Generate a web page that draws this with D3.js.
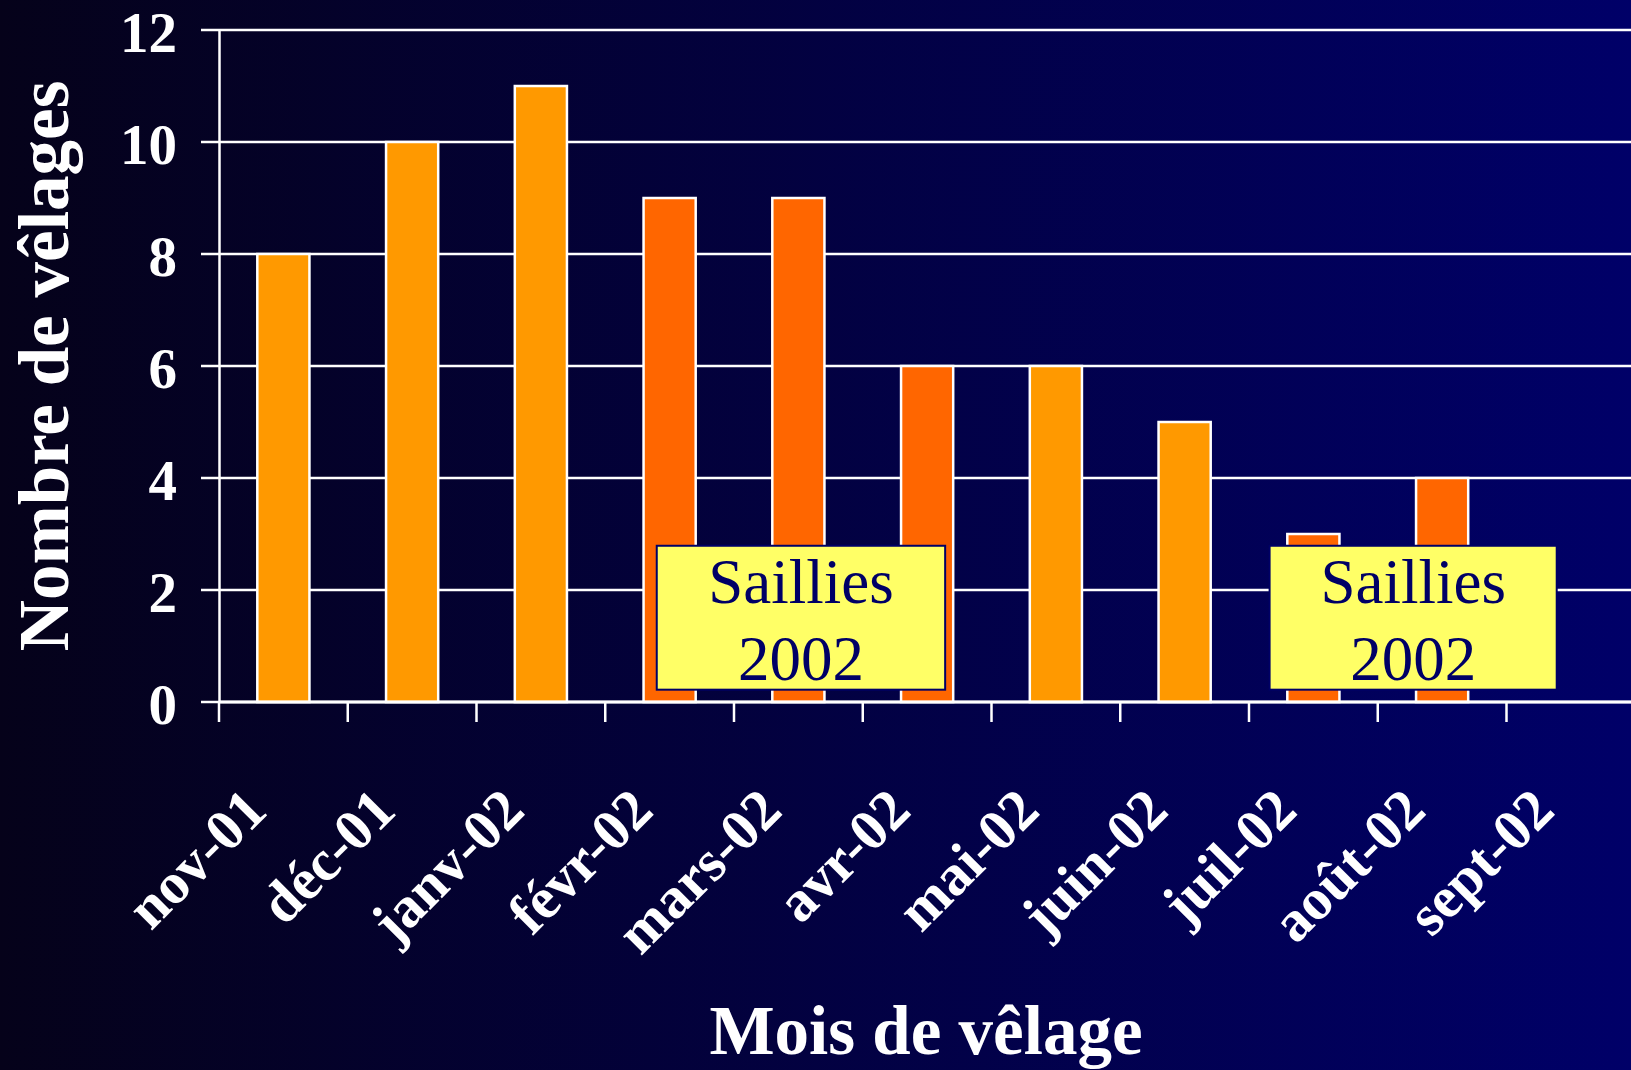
<!DOCTYPE html>
<html>
<head>
<meta charset="utf-8">
<script src="https://cdn.jsdelivr.net/npm/d3@7"></script>
<style>
  html, body { margin: 0; padding: 0; overflow: hidden; background: #000040; }
  svg { display: block; }
</style>
</head>
<body>
<div id="vis"></div>
<script>
// months on the x axis
const months = ["nov-01", "déc-01", "janv-02", "févr-02", "mars-02", "avr-02",
                "mai-02", "juin-02", "juil-02", "août-02", "sept-02"];
// number of calvings per month
const velages = [8, 10, 11, 9, 9, 6, 6, 5, 3, 4, 0];
// which group each month belongs to (colour)
const groupe = ["a", "a", "a", "b", "b", "b", "a", "a", "b", "b", "b"];
const yTicks = [0, 2, 4, 6, 8, 10, 12];
// "Saillies 2002" boxes, from/to given as month + fraction of the band
const notes = [
  { from: "févr-02", fromF: 0.40, to: "avr-02", toF: 0.64, hi: 2.79, lo: 0.22, lines: ["Saillies", "2002"] },
  { from: "juil-02", fromF: 0.16, to: "sept-02", toF: 0.39, hi: 2.79, lo: 0.22, lines: ["Saillies", "2002"] }
];

const W = 1631, H = 1070;
const plotLeft = 219, plotTop = 30, plotBottom = 702;
const step = 128.75;

const svg = d3.select("#vis").append("svg")
    .attr("width", W)
    .attr("height", H);

const defs = svg.append("defs");
const grad = defs.append("linearGradient").attr("id", "bg")
    .attr("x1", "0").attr("y1", "0").attr("x2", "1").attr("y2", "0");
grad.append("stop").attr("offset", "0").attr("stop-color", "#05021a");
grad.append("stop").attr("offset", "1").attr("stop-color", "#000068");
svg.append("rect").attr("width", W).attr("height", H).attr("fill", "url(#bg)");

const x = d3.scaleBand()
    .domain(months)
    .range([plotLeft, plotLeft + step * months.length])
    .paddingInner(0.595)
    .paddingOuter(0.2975);

const y = d3.scaleLinear()
    .domain([0, 12])
    .range([plotBottom, plotTop]);

// grid lines
svg.append("g").selectAll("line")
  .data(yTicks)
  .enter().append("line")
    .attr("x1", plotLeft - 18)
    .attr("x2", W)
    .attr("y1", d => y(d))
    .attr("y2", d => y(d))
    .attr("stroke", "white")
    .attr("stroke-width", 2.5);

// y axis
const yAxis = svg.append("g")
    .attr("transform", "translate(" + plotLeft + ",0)")
    .call(d3.axisLeft(y).tickValues(yTicks).tickSize(0).tickPadding(42));
yAxis.select(".domain").attr("stroke", "white").attr("stroke-width", 2.5);
yAxis.selectAll("text")
    .attr("fill", "white")
    .attr("font-family", "Liberation Serif, Times New Roman, serif")
    .attr("font-weight", "bold")
    .attr("font-size", "57px")
    .attr("dy", "0.37em");

// bars
svg.append("g").selectAll("rect")
  .data(months.map((m, i) => ({ m: m, v: velages[i], g: groupe[i] })).filter(d => d.v > 0))
  .enter().append("rect")
    .attr("x", d => x(d.m))
    .attr("y", d => y(d.v))
    .attr("width", x.bandwidth())
    .attr("height", d => y(0) - y(d.v))
    .attr("fill", d => d.g == "a" ? "#ff9900" : "#ff6600")
    .attr("stroke", "white")
    .attr("stroke-width", 2.5);

// x axis line and ticks at band edges
svg.append("line")
    .attr("x1", plotLeft).attr("x2", W)
    .attr("y1", y(0)).attr("y2", y(0))
    .attr("stroke", "white").attr("stroke-width", 3);
svg.append("g").selectAll("line")
  .data(months)
  .enter().append("line")
    .attr("x1", (d, i) => plotLeft + i * step)
    .attr("x2", (d, i) => plotLeft + i * step)
    .attr("y1", y(0))
    .attr("y2", y(0) + 20)
    .attr("stroke", "white")
    .attr("stroke-width", 2.5);

// rotated month labels
svg.append("g").selectAll("text")
  .data(months)
  .enter().append("text")
    .attr("transform", d => "translate(" + (x(d) + x.bandwidth() / 2 - 14) + "," + (y(0) + 111) + ")rotate(-45)")
    .attr("text-anchor", "end")
    .attr("fill", "white")
    .attr("font-family", "Liberation Serif, Times New Roman, serif")
    .attr("font-weight", "bold")
    .attr("font-size", "58px")
    .text(d => d);

// annotation boxes
const band0 = d => plotLeft + months.indexOf(d) * step;
const note = svg.append("g").selectAll("g")
  .data(notes)
  .enter().append("g");
note.append("rect")
    .attr("x", d => band0(d.from) + d.fromF * step)
    .attr("y", d => y(d.hi))
    .attr("width", d => band0(d.to) + d.toF * step - band0(d.from) - d.fromF * step)
    .attr("height", d => y(d.lo) - y(d.hi))
    .attr("fill", "#ffff66")
    .attr("stroke", "#000066")
    .attr("stroke-width", 2);
note.each(function(d) {
  const cx = (band0(d.from) + d.fromF * step + band0(d.to) + d.toF * step) / 2;
  d3.select(this).selectAll("text")
    .data(d.lines)
    .enter().append("text")
      .attr("x", cx)
      .attr("y", (t, i) => y(d.hi) + 57 + i * 77)
      .attr("text-anchor", "middle")
      .attr("fill", "#000066")
      .attr("font-family", "Liberation Serif, Times New Roman, serif")
      .attr("font-size", "63px")
      .text(t => t);
});

// axis titles
svg.append("text")
    .attr("transform", "translate(68,366)rotate(-90)")
    .attr("text-anchor", "middle")
    .attr("fill", "white")
    .attr("font-family", "Liberation Serif, Times New Roman, serif")
    .attr("font-weight", "bold")
    .attr("font-size", "71px")
    .text("Nombre de vêlages");

svg.append("text")
    .attr("x", 926)
    .attr("y", 1054)
    .attr("text-anchor", "middle")
    .attr("fill", "white")
    .attr("font-family", "Liberation Serif, Times New Roman, serif")
    .attr("font-weight", "bold")
    .attr("font-size", "69px")
    .text("Mois de vêlage");
</script>
</body>
</html>
